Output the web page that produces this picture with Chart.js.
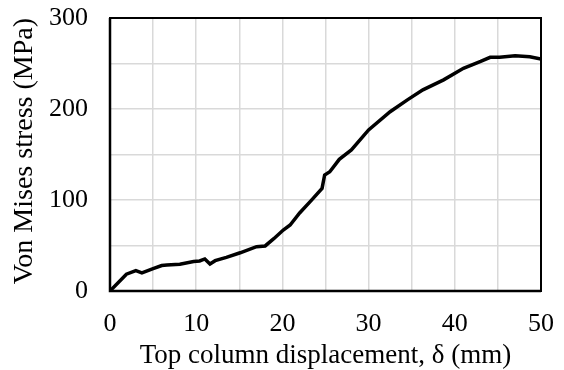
<!DOCTYPE html>
<html>
<head>
<meta charset="utf-8">
<script src="https://cdn.jsdelivr.net/npm/chart.js@4/dist/chart.umd.min.js"></script>
<style>
    html, body { margin: 0; padding: 0; background: #fff; }
    #wrap { width: 564px; height: 370px; }
</style>
</head>
<body>
<div id="wrap"><canvas id="stress-chart" width="564" height="370"></canvas></div>
<script>
// данные
const displacement = [0, 1.9, 3.0, 3.7, 5.0, 6.0, 6.6, 8.1, 9.7, 10.4, 11.0, 11.6, 12.2, 13.5, 15.1, 17.0, 18.0, 19.0, 20.1, 20.9, 22.0, 23.3, 24.6, 24.9, 25.5, 26.6, 28.0, 30.0, 32.5, 34.5, 36.3, 38.7, 41.0, 43.0, 44.1, 45.2, 47.0, 48.7, 50.0];
const stress = [0, 18.5, 22.3, 20.0, 24.5, 28.0, 28.5, 29.5, 32.5, 33.0, 35.2, 29.7, 33.3, 37.0, 42.0, 48.7, 49.5, 57.5, 67.0, 72.5, 85.7, 99.0, 112.8, 127.5, 131.0, 144.7, 155.0, 177.0, 197.0, 210.0, 221.0, 232.0, 244.7, 252.3, 256.8, 256.8, 258.6, 257.5, 255.0];
const xTicks = [0, 10, 20, 30, 40, 50];
const yTicks = [0, 100, 200, 300];

const FONT = "'Liberation Serif', 'Times New Roman', serif";

// рамка вокруг области построения
const framePlugin = {
    id: 'frame',
    afterDatasetsDraw(chart) {
        const { ctx, chartArea: a } = chart;
        ctx.save();
        ctx.strokeStyle = '#000';
        ctx.lineWidth = 2;
        ctx.strokeRect(a.left, a.top, a.right - a.left, a.bottom - a.top);
        ctx.lineWidth = 2.5;
        ctx.beginPath();
        ctx.moveTo(a.left, a.top);
        ctx.lineTo(a.left, a.bottom);
        ctx.lineTo(a.right, a.bottom);
        ctx.stroke();
        ctx.restore();
    },
};

const ctx = document.getElementById('stress-chart');
new Chart(ctx, {
    type: 'line',
    data: {
        datasets: [{
            data: displacement.map((x, i) => ({ x, y: stress[i] })),
            borderColor: '#000',
            borderWidth: 3.5,
            pointRadius: 0,
            tension: 0,
            fill: false,
        }],
    },
    options: {
        responsive: false,
        animation: false,
        devicePixelRatio: 1,
        layout: { padding: { left: 0, top: 18, right: 23, bottom: 0 } },
        plugins: {
            legend: { display: false },
            tooltip: { enabled: false },
        },
        scales: {
            x: {
                type: 'linear',
                min: 0,
                max: 50,
                afterBuildTicks: (s) => { s.ticks = []; for (let v = 0; v <= 50; v += 5) s.ticks.push({ value: v }); },
                afterFit: (s) => { s.height = 79; s.paddingLeft = 0; s.paddingRight = 0; },
                grid: { color: '#d9d9d9', lineWidth: 1.5, drawTicks: false },
                border: { display: false },
                ticks: {
                    padding: 18,
                    color: '#000',
                    font: { family: FONT, size: 26 },
                    maxRotation: 0,
                    callback: (v) => (xTicks.includes(v) ? String(v) : ''),
                },
                title: {
                    display: true,
                    text: 'Top column displacement, δ (mm)',
                    color: '#000',
                    font: { family: FONT, size: 27 },
                    padding: { top: 0, bottom: -2 },
                },
            },
            y: {
                type: 'linear',
                min: 0,
                max: 300,
                afterBuildTicks: (s) => { s.ticks = []; for (let v = 0; v <= 300; v += 50) s.ticks.push({ value: v }); },
                afterFit: (s) => { s.width = 110; s.paddingTop = 0; s.paddingBottom = 0; },
                grid: { color: '#d9d9d9', lineWidth: 1.5, drawTicks: false },
                border: { display: false },
                ticks: {
                    padding: 22,
                    color: '#000',
                    font: { family: FONT, size: 26 },
                    callback: (v) => (yTicks.includes(v) ? String(v) : ''),
                },
                title: {
                    display: true,
                    text: 'Von Mises stress (MPa)',
                    color: '#000',
                    font: { family: FONT, size: 28 },
                    align: 'end',
                    padding: { top: 8, bottom: 0 },
                },
            },
        },
    },
    plugins: [framePlugin],
});
</script>
</body>
</html>
